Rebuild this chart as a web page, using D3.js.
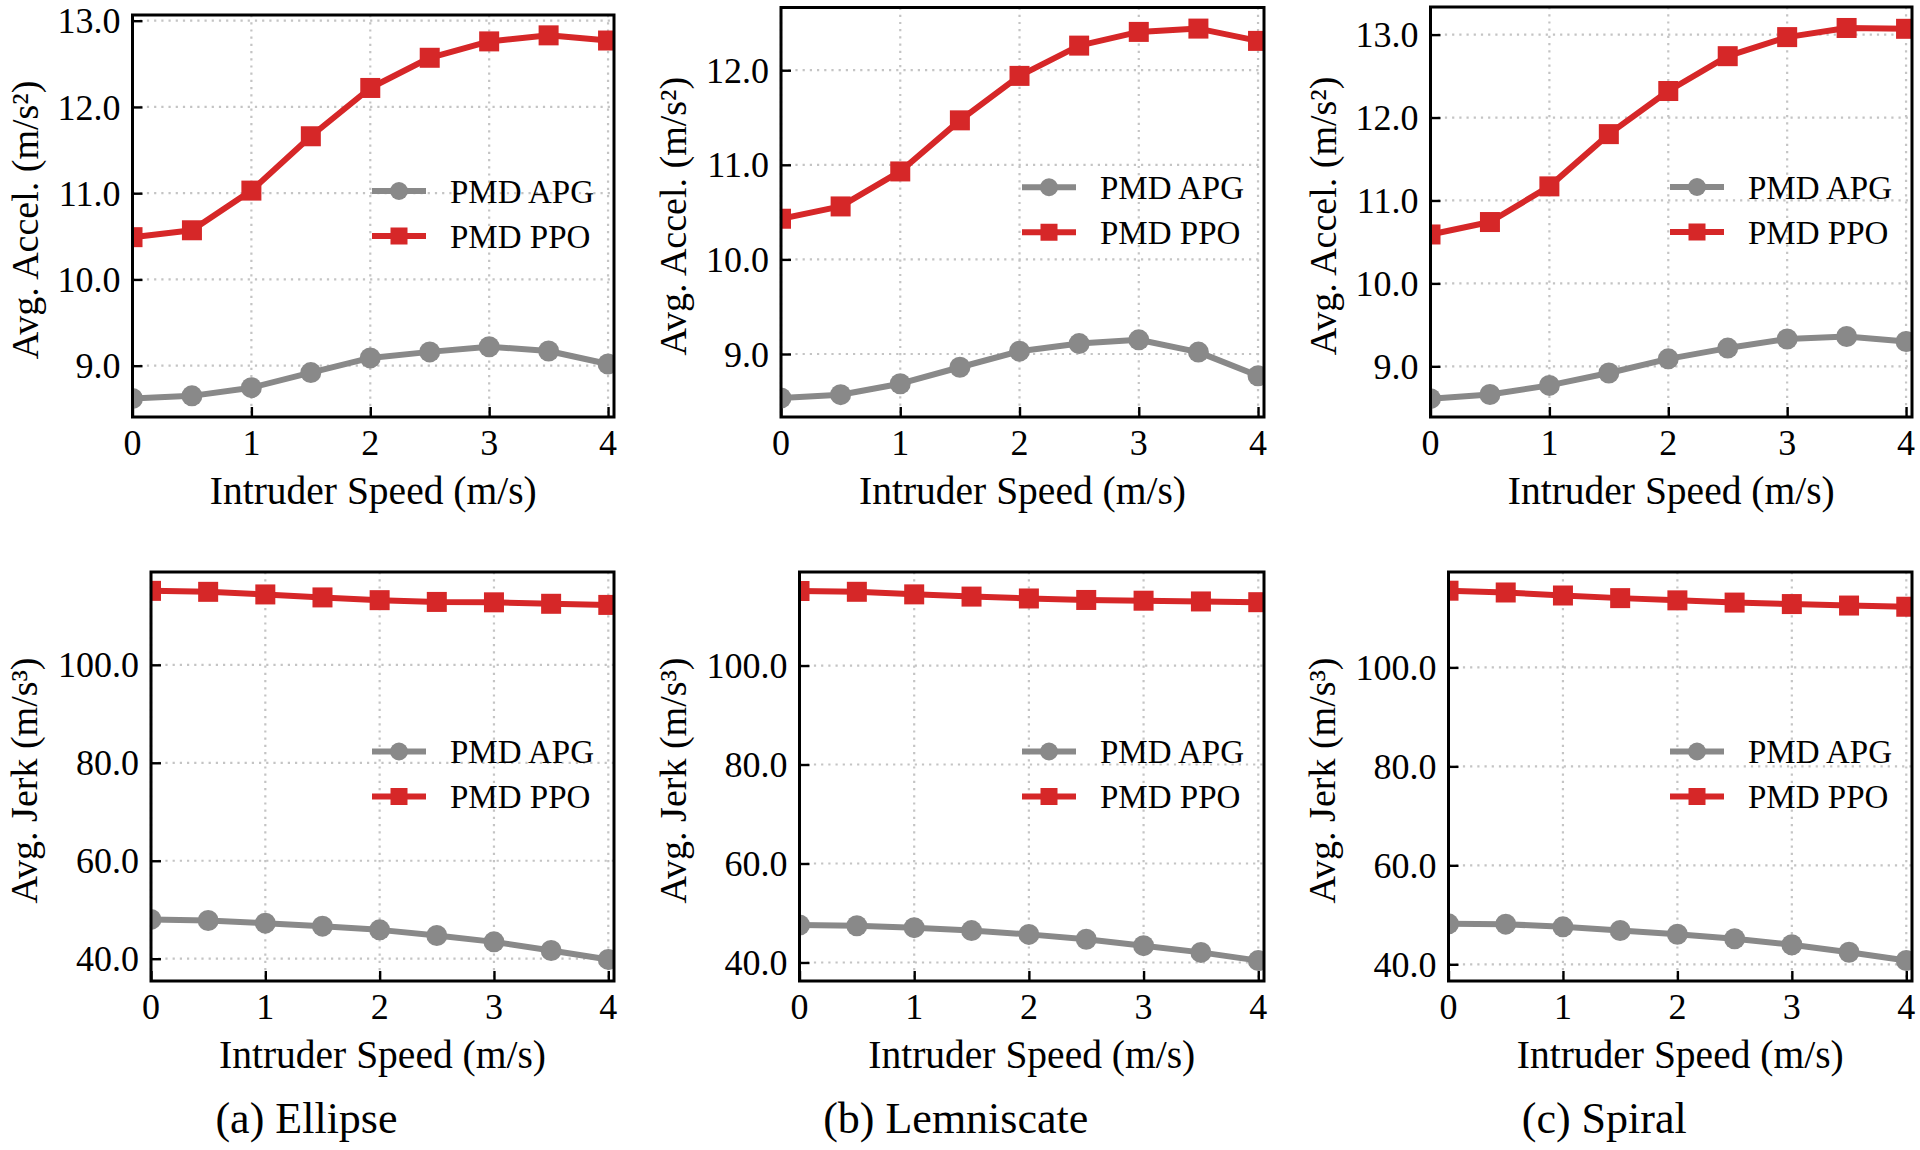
<!DOCTYPE html>
<html>
<head>
<meta charset="utf-8">
<script src="https://cdn.jsdelivr.net/npm/d3@7"></script>
<style>
  html, body { margin: 0; padding: 0; background: #fff; }
  svg { display: block; }
  text { font-family: "Liberation Serif", "Times New Roman", serif; fill: #000; }
</style>
</head>
<body>
<svg id="chart" width="1920" height="1150"></svg>
<script>
// ---------------- data ----------------
const speeds = [0, 0.5, 1, 1.5, 2, 2.5, 3, 3.5, 4];
const xTickValues = [0, 1, 2, 3, 4];
const seriesNames = ["PMD APG", "PMD PPO"];
const captions = ["(a) Ellipse", "(b) Lemniscate", "(c) Spiral"];
const accelLabel = "Avg. Accel. (m/s²)";
const jerkLabel = "Avg. Jerk (m/s³)";
const xLabel = "Intruder Speed (m/s)";

const ellipseAccelTicks = [9, 10, 11, 12, 13];
const lemniscateAccelTicks = [9, 10, 11, 12];
const spiralAccelTicks = [9, 10, 11, 12, 13];
const jerkTicks = [40, 60, 80, 100];

const ellipseAccelAPG = [8.62, 8.65, 8.745, 8.92, 9.09, 9.16, 9.22, 9.17, 9.02];
const ellipseAccelPPO = [10.49, 10.57, 11.03, 11.66, 12.22, 12.57, 12.76, 12.83, 12.77];
const lemniscateAccelAPG = [8.535, 8.57, 8.686, 8.86, 9.03, 9.11, 9.15, 9.02, 8.77];
const lemniscateAccelPPO = [10.43, 10.56, 10.93, 11.47, 11.94, 12.26, 12.405, 12.44, 12.31];
const spiralAccelAPG = [8.61, 8.66, 8.77, 8.92, 9.09, 9.22, 9.33, 9.36, 9.30];
const spiralAccelPPO = [10.59, 10.74, 11.17, 11.80, 12.32, 12.74, 12.97, 13.08, 13.07];

const ellipseJerkAPG = [48.03, 47.8, 47.26, 46.65, 45.89, 44.74, 43.44, 41.68, 39.85];
const ellipseJerkPPO = [115.1, 114.9, 114.37, 113.76, 113.2, 112.84, 112.76, 112.46, 112.23];
const lemniscateJerkAPG = [47.57, 47.42, 47.04, 46.44, 45.68, 44.69, 43.4, 42.04, 40.38];
const lemniscateJerkPPO = [115.06, 114.9, 114.38, 113.93, 113.55, 113.25, 113.1, 112.95, 112.8];
const spiralJerkAPG = [48.18, 48.1, 47.57, 46.82, 46.06, 45.15, 43.94, 42.43, 40.76];
const spiralJerkPPO = [115.5, 115.14, 114.53, 114.0, 113.55, 113.1, 112.8, 112.5, 112.26];

// ---------------- layout / style ----------------
const COLORS = ["#898989", "#d62728"];
const MARKERS = ["circle", "square"];
const xDomain = [0, 4.05];

const panels = [
  { l: 132.5, r: 614, t: 15, b: 417, yDom: [8.405, 13.066], ticks: ellipseAccelTicks, apg: ellipseAccelAPG, ppo: ellipseAccelPPO, ylab: accelLabel, labOff: 108 },
  { l: 781, r: 1264, t: 7.5, b: 417, yDom: [8.334, 12.663], ticks: lemniscateAccelTicks, apg: lemniscateAccelAPG, ppo: lemniscateAccelPPO, ylab: accelLabel, labOff: 108 },
  { l: 1430.5, r: 1912, t: 7, b: 417, yDom: [8.389, 13.333], ticks: spiralAccelTicks, apg: spiralAccelAPG, ppo: spiralAccelPPO, ylab: accelLabel, labOff: 108 },
  { l: 151, r: 614, t: 572, b: 981, yDom: [35.45, 118.95], ticks: jerkTicks, apg: ellipseJerkAPG, ppo: ellipseJerkPPO, ylab: jerkLabel, labOff: 127, caption: captions[0] },
  { l: 799.5, r: 1264, t: 572, b: 981, yDom: [36.26, 118.9], ticks: jerkTicks, apg: lemniscateJerkAPG, ppo: lemniscateJerkPPO, ylab: jerkLabel, labOff: 127, caption: captions[1] },
  { l: 1448.5, r: 1912, t: 572, b: 981, yDom: [36.62, 119.28], ticks: jerkTicks, apg: spiralJerkAPG, ppo: spiralJerkPPO, ylab: jerkLabel, labOff: 127, caption: captions[2] }
];

const svg = d3.select("#chart");
const defs = svg.append("defs");

panels.forEach((p, i) => {
  const x = d3.scaleLinear().domain(xDomain).range([p.l, p.r]);
  const y = d3.scaleLinear().domain(p.yDom).range([p.b, p.t]);
  const g = svg.append("g");

  const clipId = "clip" + i;
  defs.append("clipPath").attr("id", clipId)
    .append("rect").attr("x", p.l).attr("y", p.t).attr("width", p.r - p.l).attr("height", p.b - p.t);

  // grid
  const grid = g.append("g").attr("stroke", "#c4c4c4").attr("stroke-width", 2.2).attr("stroke-dasharray", "2.2,5");
  xTickValues.forEach(v => {
    grid.append("line").attr("x1", x(v)).attr("x2", x(v)).attr("y1", p.t).attr("y2", p.b);
  });
  p.ticks.forEach(v => {
    grid.append("line").attr("x1", p.l).attr("x2", p.r).attr("y1", y(v)).attr("y2", y(v));
  });

  // axes (ticks inward)
  const xAxis = d3.axisTop(x).tickValues(xTickValues).tickSize(10).tickFormat("");
  const yAxis = d3.axisRight(y).tickValues(p.ticks).tickSize(10).tickFormat("");
  const gx = g.append("g").attr("transform", `translate(0,${p.b})`).call(xAxis);
  const gy = g.append("g").attr("transform", `translate(${p.l},0)`).call(yAxis);
  [gx, gy].forEach(a => {
    a.select(".domain").remove();
    a.selectAll(".tick line").attr("stroke", "#000").attr("stroke-width", 2.4);
  });

  // tick labels
  xTickValues.forEach(v => {
    g.append("text").attr("x", x(v)).attr("y", p.b + 38).attr("text-anchor", "middle")
      .attr("font-size", 36).text(d3.format("d")(v));
  });
  p.ticks.forEach(v => {
    g.append("text").attr("x", p.l - 12).attr("y", y(v)).attr("dy", "0.35em").attr("text-anchor", "end")
      .attr("font-size", 36).text(d3.format(".1f")(v));
  });

  // series
  const dataG = g.append("g").attr("clip-path", `url(#${clipId})`);
  [p.apg, p.ppo].forEach((vals, si) => {
    const pts = speeds.map((s, k) => [s, vals[k]]);
    const line = d3.line().x(d => x(d[0])).y(d => y(d[1]));
    dataG.append("path").datum(pts).attr("d", line).attr("fill", "none")
      .attr("stroke", COLORS[si]).attr("stroke-width", 6).attr("stroke-linejoin", "round");
    if (MARKERS[si] === "circle") {
      dataG.selectAll(null).data(pts).enter().append("circle")
        .attr("cx", d => x(d[0])).attr("cy", d => y(d[1])).attr("r", 10.5).attr("fill", COLORS[si]);
    } else {
      dataG.selectAll(null).data(pts).enter().append("rect")
        .attr("x", d => x(d[0]) - 10).attr("y", d => y(d[1]) - 10)
        .attr("width", 20).attr("height", 20).attr("fill", COLORS[si]);
    }
  });

  // frame
  g.append("rect").attr("x", p.l).attr("y", p.t).attr("width", p.r - p.l).attr("height", p.b - p.t)
    .attr("fill", "none").attr("stroke", "#000").attr("stroke-width", 3);

  // legend
  const cy = (p.t + p.b) / 2;
  const rows = [cy - 25, cy + 20];
  seriesNames.forEach((name, si) => {
    const ly = rows[si];
    const lx1 = p.r - 242, lx2 = p.r - 188;
    g.append("line").attr("x1", lx1).attr("x2", lx2).attr("y1", ly).attr("y2", ly)
      .attr("stroke", COLORS[si]).attr("stroke-width", 6);
    const mx = (lx1 + lx2) / 2;
    if (MARKERS[si] === "circle") {
      g.append("circle").attr("cx", mx).attr("cy", ly).attr("r", 9).attr("fill", COLORS[si]);
    } else {
      g.append("rect").attr("x", mx - 8.5).attr("y", ly - 8.5).attr("width", 17).attr("height", 17).attr("fill", COLORS[si]);
    }
    g.append("text").attr("x", p.r - 164).attr("y", ly).attr("dy", "0.35em")
      .attr("font-size", 33).text(name);
  });

  // axis labels
  g.append("text").attr("x", (p.l + p.r) / 2).attr("y", p.b + 87).attr("text-anchor", "middle")
    .attr("font-size", 39.5).text(xLabel);
  g.append("text")
    .attr("transform", `translate(${p.l - p.labOff},${(p.t + p.b) / 2 + 4}) rotate(-90)`)
    .attr("text-anchor", "middle").attr("dominant-baseline", "central")
    .attr("font-size", 38).text(p.ylab);

  if (p.caption) {
    g.append("text").attr("x", (p.l + p.r) / 2 - 76).attr("y", 1133).attr("text-anchor", "middle")
      .attr("font-size", 44).text(p.caption);
  }
});
</script>
</body>
</html>
